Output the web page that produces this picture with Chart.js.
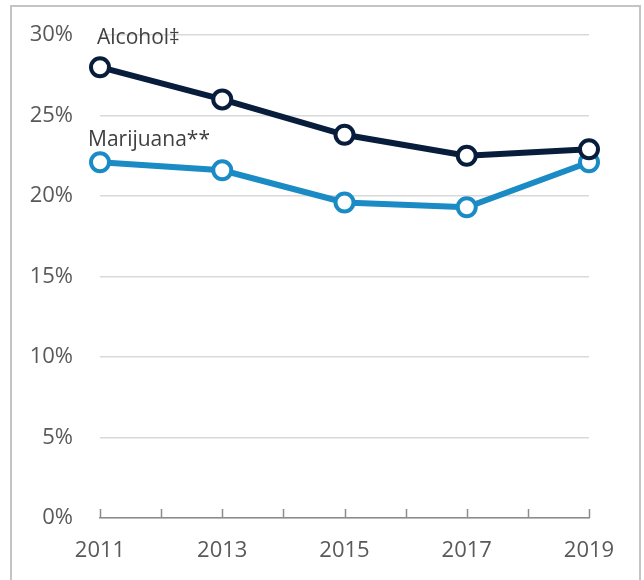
<!DOCTYPE html>
<html>
<head>
<meta charset="utf-8">
<script src="https://cdn.jsdelivr.net/npm/chart.js@4.4.1/dist/chart.umd.min.js"></script>
<style>
    body { margin: 0; background: #ffffff; }
    #cadre { position: absolute; left: 10px; top: 5px; width: 631px; height: 600px; border: 2px solid #c4c4c4; box-sizing: border-box; }
    #zone { position: absolute; left: 0; top: 0; width: 644px; height: 580px; }
</style>
</head>
<body>
<div id="cadre"></div>
<div id="zone"><canvas id="graphique" width="644" height="580"></canvas></div>
<script>
//------------------DONNEES-------------------------------

const annees = [2011, 2013, 2015, 2017, 2019];
const alcool = [28.0, 26.0, 23.8, 22.5, 22.9];
const marijuana = [22.1, 21.6, 19.6, 19.3, 22.1];
const noms_series = ['Alcohol‡', 'Marijuana**'];
const graduations_y = [0, 5, 10, 15, 20, 25, 30];
const graduations_x = [2011, 2012, 2013, 2014, 2015, 2016, 2017, 2018, 2019];

//---------------------------------------------------------------------------------

const police = "'Open Sans', sans-serif";

// petits traits vers le haut sur l'axe des x (comme dans excel)
const traitsAxe = {
    id: 'traitsAxe',
    afterDraw(chart) {
        const c = chart.ctx;
        const x = chart.scales.x;
        const bas = chart.chartArea.bottom;
        c.save();
        c.strokeStyle = '#8c8c8c';
        c.lineWidth = 1.5;
        graduations_x.forEach(a => {
            const px = Math.round(x.getPixelForValue(a)) + 0.5;
            c.beginPath();
            c.moveTo(px, bas);
            c.lineTo(px, bas - 9);
            c.stroke();
        });
        c.restore();
    }
};

// nom des séries écrit au dessus du premier point
const nomsSeries = {
    id: 'nomsSeries',
    afterDatasetsDraw(chart) {
        const c = chart.ctx;
        const decalages = [[-3, -29], [-12, -22]];
        c.save();
        c.font = '21px ' + police;
        c.fillStyle = '#404040';
        c.textBaseline = 'middle';
        c.textAlign = 'left';
        chart.data.datasets.forEach((ds, i) => {
            const pt = chart.getDatasetMeta(i).data[0];
            c.fillText(noms_series[i], pt.x + decalages[i][0], pt.y + decalages[i][1]);
        });
        c.restore();
    }
};

const ctx = document.getElementById('graphique').getContext('2d');

new Chart(ctx, {
    type: 'line',
    plugins: [traitsAxe, nomsSeries],
    data: {
        datasets: [{
            label: noms_series[0],
            data: annees.map((a, i) => ({ x: a, y: alcool[i] })),
            borderColor: '#071d3b',
            borderWidth: 6,
            pointRadius: 9,
            pointBorderWidth: 4,
            pointBackgroundColor: '#ffffff',
            pointBorderColor: '#071d3b',
            tension: 0,
            clip: false
        }, {
            label: noms_series[1],
            data: annees.map((a, i) => ({ x: a, y: marijuana[i] })),
            borderColor: '#1a8bc4',
            borderWidth: 6,
            pointRadius: 9,
            pointBorderWidth: 4,
            pointBackgroundColor: '#ffffff',
            pointBorderColor: '#1a8bc4',
            tension: 0,
            clip: false
        }]
    },
    options: {
        responsive: false,
        animation: false,
        layout: {
            padding: { top: 35, right: 55, bottom: 0, left: 0 }
        },
        scales: {
            x: {
                type: 'linear',
                min: 2011,
                max: 2019,
                // on fixe la zone du graphique pour coller à l'original
                afterFit: s => { s.height = 62; s.paddingLeft = 0; s.paddingRight = 0; },
                afterBuildTicks: s => { s.ticks = graduations_x.map(v => ({ value: v })); },
                grid: { display: false, drawTicks: false },
                border: { display: true, color: '#8c8c8c', width: 1.5 },
                ticks: {
                    padding: 20,
                    color: '#595959',
                    font: { family: police, size: 22 },
                    maxRotation: 0,
                    autoSkip: false,
                    callback: v => annees.includes(v) ? String(v) : ''
                }
            },
            y: {
                min: 0,
                max: 30,
                afterFit: s => { s.width = 100; s.paddingTop = 0; s.paddingBottom = 0; },
                afterBuildTicks: s => { s.ticks = graduations_y.map(v => ({ value: v })); },
                grid: { color: '#d9d9d9', lineWidth: 1.5, drawTicks: false },
                border: { display: false },
                ticks: {
                    padding: 27,
                    color: '#595959',
                    font: { family: police, size: 22 },
                    callback: v => v + '%'
                }
            }
        },
        plugins: {
            legend: { display: false },
            tooltip: { enabled: false }
        }
    }
});
</script>
</body>
</html>
